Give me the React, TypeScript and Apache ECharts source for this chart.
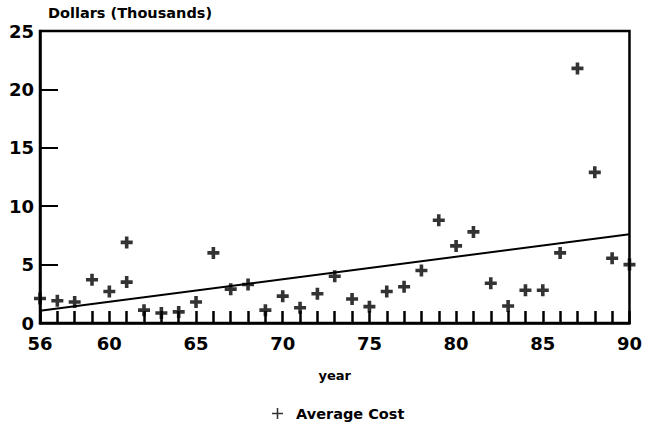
import React, { useEffect, useRef } from "react";
import * as echarts from "echarts";

// Average cost per year (thousands of dollars)
const years = [56, 57, 58, 59, 60, 61, 61, 62, 63, 64, 65, 66, 67, 68, 69, 70, 71, 72, 73, 74, 75, 76, 77, 78, 79, 80, 81, 82, 83, 84, 85, 86, 87, 88, 89, 90];
const avgCost = [2.1, 1.9, 1.8, 3.7, 2.7, 6.9, 3.5, 1.1, 0.85, 0.95, 1.8, 6.0, 2.9, 3.3, 1.1, 2.3, 1.3, 2.5, 4.0, 2.05, 1.4, 2.7, 3.1, 4.5, 8.8, 6.6, 7.8, 3.4, 1.45, 2.8, 2.8, 6.0, 21.8, 12.9, 5.55, 5.0];

// Fitted trend line end points
const trendYears = [56, 90];
const trendValues = [1.05, 7.6];

const xTickYears = [56, 57, 58, 59, 60, 61, 62, 63, 64, 65, 66, 67, 68, 69, 70, 71, 72, 73, 74, 75, 76, 77, 78, 79, 80, 81, 82, 83, 84, 85, 86, 87, 88, 89, 90];
const xLabelYears = [56, 60, 65, 70, 75, 80, 85, 90];

const PLUS = "path://M3.5,0 L6.5,0 L6.5,3.5 L10,3.5 L10,6.5 L6.5,6.5 L6.5,10 L3.5,10 L3.5,6.5 L0,6.5 L0,3.5 L3.5,3.5 Z";
const PLUS_THIN = "path://M4.3,0 L5.7,0 L5.7,4.3 L10,4.3 L10,5.7 L5.7,5.7 L5.7,10 L4.3,10 L4.3,5.7 L0,5.7 L0,4.3 L4.3,4.3 Z";
const FONT = "DejaVu Sans";

export default function App() {
  const ref = useRef<HTMLDivElement>(null);

  useEffect(() => {
    document.body.style.margin = "0";
    document.body.style.overflow = "hidden";
    if (!ref.current) return;
    const chart = echarts.init(ref.current, null, { renderer: "svg" });
    chart.setOption({
      animation: false,
      backgroundColor: "#ffffff",
      textStyle: { fontFamily: FONT, color: "#000" },
      title: {
        text: "Dollars (Thousands)",
        left: 48,
        top: 5,
        padding: 0,
        textStyle: { fontFamily: FONT, fontSize: 14.5, fontWeight: "bold", color: "#000" },
      },
      legend: {
        data: [{ name: "Average Cost", icon: PLUS_THIN }],
        left: 267,
        top: 401,
        itemWidth: 11,
        itemHeight: 11,
        textStyle: { fontFamily: FONT, fontSize: 14.5, fontWeight: "bold", color: "#000", padding: [0, 0, 0, 8] },
        itemStyle: { color: "#000" },
      },
      grid: {
        left: 40,
        top: 31,
        right: 12,
        bottom: 102,
        show: true,
        borderColor: "#000",
        borderWidth: 2.5,
        backgroundColor: "transparent",
      },
      xAxis: {
        type: "value",
        min: 56,
        max: 90,
        name: "year",
        nameLocation: "middle",
        nameGap: 46,
        nameTextStyle: { fontFamily: FONT, fontSize: 13, fontWeight: "bold", color: "#000" },
        axisLine: { show: true, lineStyle: { color: "#000", width: 2.5 } },
        axisTick: {
          show: true,
          inside: true,
          length: 12,
          customValues: xTickYears,
          lineStyle: { color: "#000", width: 2.5 },
        },
        axisLabel: {
          customValues: xLabelYears,
          fontFamily: FONT,
          fontSize: 18,
          fontWeight: "bold",
          color: "#000",
          margin: 11,
        },
        splitLine: { show: false },
      },
      yAxis: {
        type: "value",
        min: 0,
        max: 25,
        interval: 5,
        axisLine: { show: true, lineStyle: { color: "#000", width: 2.5 } },
        axisTick: { show: true, inside: true, length: 18, lineStyle: { color: "#000", width: 2 } },
        axisLabel: { fontFamily: FONT, fontSize: 18, fontWeight: "bold", color: "#000", margin: 6 },
        splitLine: { show: false },
      },
      series: [
        {
          name: "Average Cost",
          type: "scatter",
          symbol: PLUS,
          symbolSize: 12,
          itemStyle: { color: "#000" },
          data: years.map((y, i) => [y, avgCost[i]]),
          z: 3,
        },
        {
          name: "Trend",
          type: "line",
          showSymbol: false,
          symbol: "none",
          lineStyle: { color: "#000", width: 2 },
          data: trendYears.map((y, i) => [y, trendValues[i]]),
          z: 2,
        },
      ],
    });
    return () => chart.dispose();
  }, []);

  return (
    <div
      ref={ref}
      style={{ position: "absolute", left: 0, top: 0, width: 645, height: 425 }}
    />
  );
}
